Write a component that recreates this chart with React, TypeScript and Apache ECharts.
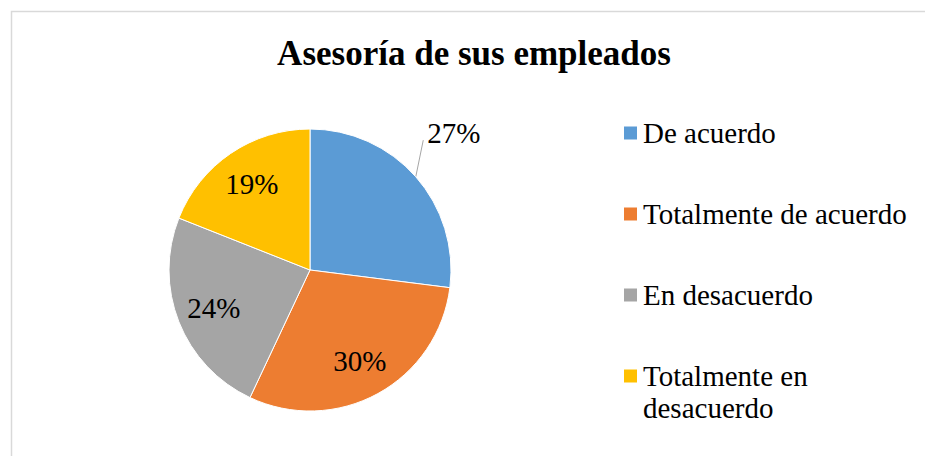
import React, { useEffect, useRef } from "react";
import * as echarts from "echarts";

const TITLE = "Asesoría de sus empleados";
const categories = ["De acuerdo", "Totalmente de acuerdo", "En desacuerdo", "Totalmente en desacuerdo"];
const values = [27, 30, 24, 19];
const colors = ["#5b9bd5", "#ed7d31", "#a5a5a5", "#ffc000"];

const FONT = "'Liberation Serif', 'Times New Roman', serif";

export default function App() {
  const ref = useRef<HTMLDivElement>(null);
  useEffect(() => {
    if (!ref.current) return;
    const chart = echarts.init(ref.current, undefined, { renderer: "svg" });
    const data = categories.map((name, i) => ({
      name,
      value: values[i],
      itemStyle: { color: colors[i] },
      label: { show: i === 0 },
      labelLine: { show: i === 0 },
    }));
    chart.setOption({
      animation: false,
      backgroundColor: "#ffffff",
      title: {
        text: TITLE,
        left: 474,
        top: 36,
        padding: 0,
        textAlign: "center",
        textStyle: { fontFamily: FONT, fontWeight: "bold", fontSize: 35, color: "#000000" },
      },
      graphic: [
        {
          type: "rect",
          shape: { x: 11.5, y: 11.5, width: 1000, height: 600 },
          style: { fill: "none", stroke: "#d9d9d9", lineWidth: 1.5 },
          silent: true,
        },
      ],
      legend: [
        {
          data: categories.slice(0, 3),
          orient: "vertical",
          left: 622,
          top: 117,
          padding: 0,
          itemGap: 49,
          itemWidth: 15,
          itemHeight: 15,
          icon: "rect",
          selectedMode: false,
          textStyle: { fontFamily: FONT, fontSize: 29, color: "#000000", lineHeight: 32 },
        },
        {
          data: categories.slice(3),
          orient: "vertical",
          left: 622,
          top: 360,
          padding: 0,
          itemWidth: 15,
          itemHeight: 47,
          icon: "path://M0,0H15V15H0Z M0,47L0.01,47",
          selectedMode: false,
          textStyle: {
            fontFamily: FONT,
            fontSize: 29,
            color: "#000000",
            lineHeight: 32,
            width: 262,
            overflow: "break",
          },
        },
      ],
      series: [
        {
          type: "pie",
          center: [310, 270],
          radius: [0, 141],
          startAngle: 90,
          clockwise: true,
          data,
          itemStyle: { borderColor: "#ffffff", borderWidth: 1 },
          label: {
            position: "outside",
            fontFamily: FONT,
            fontSize: 29,
            color: "#000000",
            formatter: (p: any) => `${p.value}%`,
          },
          labelLine: {
            length: 30,
            length2: 0,
            lineStyle: { color: "#a6a6a6", width: 1 },
          },
          labelLayout: (p: any) => {
            if (p.dataIndex !== 0) return {};
            const dx = -16;
            const dy = -24;
            const r = p.labelRect;
            const pts = p.labelLinePoints;
            if (!pts || !r) return { dx, dy };
            const end = [r.x + dx - 4, r.y + dy + r.height * 0.75];
            return { dx, dy, labelLinePoints: [pts[0], end, end] };
          },
          emphasis: { disabled: true },
        },
        {
          type: "pie",
          center: [310, 270],
          radius: [60, 141],
          startAngle: 90,
          clockwise: true,
          silent: true,
          data: categories.map((name, i) => ({ name, value: values[i], label: { show: i !== 0 } })),
          itemStyle: { color: "rgba(0,0,0,0)" },
          label: {
            position: "inside",
            fontFamily: FONT,
            fontSize: 29,
            color: "#000000",
            padding: [0, 0, 6, 0],
            formatter: (p: any) => `${p.value}%`,
          },
          labelLine: { show: false },
          emphasis: { disabled: true },
        },
      ],
    });
    return () => chart.dispose();
  }, []);
  return <div ref={ref} style={{ position: "fixed", left: 0, top: 0, width: 925, height: 456 }} />;
}
